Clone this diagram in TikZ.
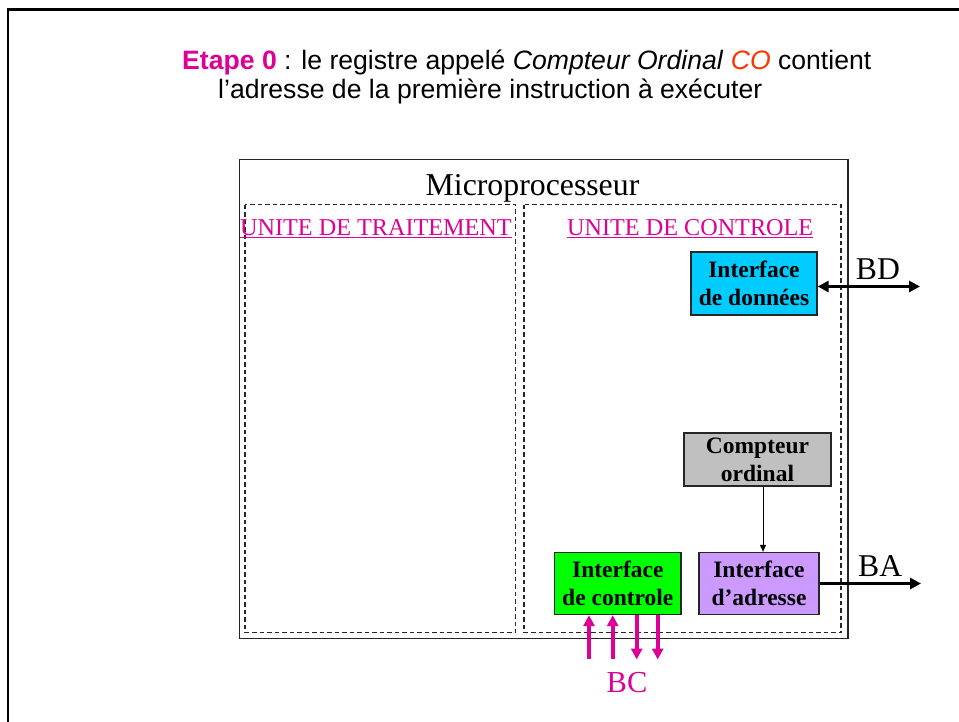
\documentclass[tikz,border=0pt]{standalone}
\usepackage{fontspec}
\setmainfont{Liberation Serif}
\newfontfamily\arialfont{Liberation Sans}
\usetikzlibrary{arrows.meta}
\definecolor{mag}{RGB}{220,0,150}
\definecolor{coorange}{RGB}{255,51,0}
\definecolor{cyanbox}{RGB}{0,204,255}
\definecolor{graybox}{RGB}{192,192,192}
\definecolor{greenbox}{RGB}{0,255,0}
\definecolor{purplebox}{RGB}{204,153,255}
\tikzset{
  unitbox/.style={draw=black!85, line width=1.6pt, dash pattern=on 4.5pt off 3pt},
  regbox/.style={draw=black!85, line width=1.3pt, align=center, inner sep=0pt,
    font=\fontsize{23.5}{28.3}\selectfont\bfseries},
  unitlabel/.style={text=mag, font=\fontsize{24.2}{28}\selectfont, inner sep=0pt, anchor=base west},
  buslabel/.style={font=\fontsize{31.7}{36}\selectfont, inner sep=0pt, anchor=base west},
  bus/.style={line width=3.6pt},
  bigtip/.tip={Triangle[length=11pt,width=11pt]},
  ctrlbus/.style={draw=mag, line width=3.8pt},
  ctip/.tip={Triangle[length=11pt,width=11pt]}
}
\begin{document}
\begin{tikzpicture}[x=1pt,y=-1pt]
\clip (0,0) rectangle (959,721);
% slide frame
\draw[line width=2.6pt] (7.8,9.5) rectangle (1000,1000);

% heading
\node[anchor=base west, inner sep=0pt, font=\arialfont\fontsize{26.6}{30}\selectfont] (t1) at (182,69.5)
  {\textcolor{mag}{\textbf{Etape 0}} : le registre appelé \textit{Compteur Ordinal} \textcolor{coorange}{\textit{CO}} contient};
\node[anchor=base west, inner sep=0pt, font=\arialfont\fontsize{26.6}{30}\selectfont] (t2) at (218,98.5)
  {l’adresse de la première instruction à exécuter};

% microprocessor
\draw[line width=1.6pt, draw=black!85] (239.5,159.3) rectangle (847.8,638.5);
\node[anchor=base, inner sep=0pt, font=\fontsize{31.8}{36}\selectfont] (mp) at (532.5,195) {Microprocesseur};

% processing and control units
\draw[unitbox] (245,204.5) rectangle (515.5,632.5);
\draw[unitbox] (524,204.5) rectangle (841,632.5);
\node[unitlabel] (ut) at (240,235) {UNITE DE TRAITEMENT};
\draw[mag, line width=1pt] ([yshift=-2.6pt]ut.base west) -- ([yshift=-2.6pt]ut.base east);
\node[unitlabel] (uc) at (567,235) {UNITE DE CONTROLE};
\draw[mag, line width=1pt] ([yshift=-2.6pt]uc.base west) -- ([yshift=-2.6pt]uc.base east);

% registers and interfaces
\node[regbox, fill=cyanbox, minimum width=126pt, minimum height=63pt] (id) at (754,283.6) {Interface\\de données};
\node[regbox, fill=graybox, minimum width=147pt, minimum height=53pt] (co) at (757.5,459.5) {Compteur\\ordinal};
\node[regbox, fill=purplebox, minimum width=120pt, minimum height=62pt] (ia) at (759,583.5) {Interface\\d’adresse};
\node[regbox, fill=greenbox, minimum width=126.5pt, minimum height=62pt] (ic) at (617.8,583.5) {Interface\\de controle};

% program counter feeds the address interface
\draw[line width=1pt, -{Triangle[length=7pt,width=6pt]}] ([xshift=4pt]ia.north |- co.south) -- ([xshift=4pt]ia.north);

% data bus
\coordinate (bdend) at (920,286.5);
\draw[bus, bigtip-bigtip] (id.east |- bdend) -- (bdend);
\node[buslabel] (bd) at (855.7,279.3) {BD};

% address bus
\coordinate (baend) at (921,583.5);
\draw[bus, -bigtip] (ia.east) -- (baend);
\node[buslabel] (ba) at (858,576) {BA};

% control bus
\coordinate (c1) at (589,658.5);
\coordinate (c2) at (612.7,658.5);
\coordinate (c3) at (636.7,659.5);
\coordinate (c4) at (657.7,659.5);
\draw[ctrlbus, -ctip] (c1) -- (c1 |- ic.south);
\draw[ctrlbus, -ctip] (c2) -- (c2 |- ic.south);
\draw[ctrlbus, -ctip] (c3 |- ic.south) -- (c3);
\draw[ctrlbus, -ctip] (c4 |- ic.south) -- (c4);
\node[buslabel, text=mag, font=\fontsize{30.5}{36}\selectfont] (bc) at (606.5,692) {BC};
\end{tikzpicture}
\end{document}
